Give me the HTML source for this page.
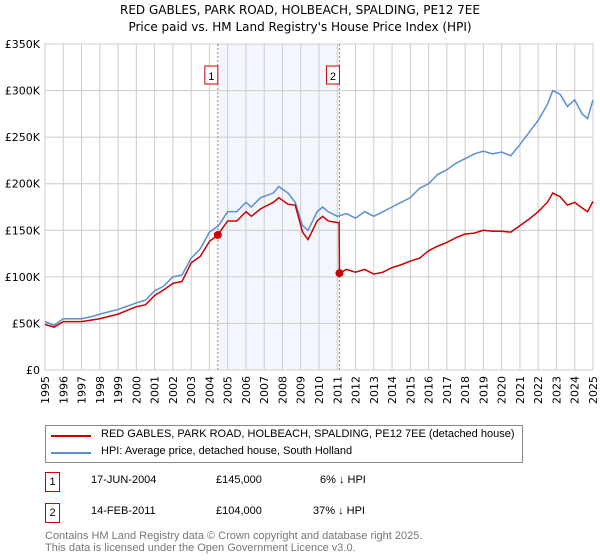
<!DOCTYPE html>
<html><head><meta charset="utf-8"><style>
body{margin:0;background:#fff;font-family:"Liberation Sans","DejaVu Sans",sans-serif;}
#wrap{position:relative;width:600px;height:560px;overflow:hidden}
.t{position:absolute;font-size:12px;color:#000;white-space:nowrap}
</style></head><body><div id="wrap">
<div class="t" style="left:0;width:600px;text-align:center;top:3px;font-size:12px;font-family:'DejaVu Sans',sans-serif">RED GABLES, PARK ROAD, HOLBEACH, SPALDING, PE12 7EE</div>
<div class="t" style="left:0;width:600px;text-align:center;top:20px;font-size:12px;font-family:'DejaVu Sans',sans-serif">Price paid vs. HM Land Registry's House Price Index (HPI)</div>
<svg id="ch" width="600" height="420" style="position:absolute;left:0;top:0"></svg>
<div style="position:absolute;left:45px;top:425px;width:476px;height:36px;border:1px solid #888">
<div style="position:absolute;left:5px;top:9px;width:40px;height:2px;background:#cc0000"></div>
<div class="t" style="left:55px;top:2px;font-size:11px">RED GABLES, PARK ROAD, HOLBEACH, SPALDING, PE12 7EE (detached house)</div>
<div style="position:absolute;left:5px;top:26px;width:40px;height:2px;background:#5b8fd4"></div>
<div class="t" style="left:55px;top:19px;font-size:11px">HPI: Average price, detached house, South Holland</div>
</div>
<div>
<div class="t" style="left:45px;top:472px;width:13px;height:18px;border:1px solid #cc0000;text-align:center;line-height:18px;font-size:11px">1</div>
<div class="t" style="left:91px;top:474px;font-size:11px">17-JUN-2004</div>
<div class="t" style="left:216px;top:474px;font-size:11px">£145,000</div>
<div class="t" style="left:320px;top:474px;font-size:11px">6% ↓ HPI</div>
</div>
<div>
<div class="t" style="left:45px;top:503px;width:13px;height:18px;border:1px solid #cc0000;text-align:center;line-height:18px;font-size:11px">2</div>
<div class="t" style="left:91px;top:505px;font-size:11px">14-FEB-2011</div>
<div class="t" style="left:216px;top:505px;font-size:11px">£104,000</div>
<div class="t" style="left:313px;top:505px;font-size:11px">37% ↓ HPI</div>
</div>
<div class="t" style="left:45px;top:530px;color:#777;font-size:11px;line-height:12px">Contains HM Land Registry data © Crown copyright and database right 2025.<br>This data is licensed under the Open Government Licence v3.0.</div>
</div>
<script>
const yTicks=[0,50000,100000,150000,200000,250000,300000,350000];
const yTickLabels=["£0","£50K","£100K","£150K","£200K","£250K","£300K","£350K"];
const xYears=[1995,1996,1997,1998,1999,2000,2001,2002,2003,2004,2005,2006,2007,2008,2009,2010,2011,2012,2013,2014,2015,2016,2017,2018,2019,2020,2021,2022,2023,2024,2025];
const hpiT=[1995,1995.5,1996,1997,1997.5,1998,1999,2000,2000.5,2001,2001.5,2002,2002.5,2003,2003.5,2004,2004.5,2005,2005.5,2006,2006.3,2006.8,2007.5,2007.8,2008.3,2008.7,2009.1,2009.4,2009.9,2010.2,2010.5,2011,2011.5,2012,2012.5,2013,2013.5,2014,2014.5,2015,2015.5,2016,2016.5,2017,2017.5,2018,2018.5,2019,2019.5,2020,2020.5,2021,2021.5,2022,2022.5,2022.8,2023.2,2023.6,2024,2024.4,2024.7,2025];
const hpiV=[52,48,55,55,57,60,65,72,75,85,90,100,102,120,130,148,155,170,170,180,175,185,190,197,190,180,155,150,170,175,170,165,168,163,170,165,170,175,180,185,195,200,210,215,222,227,232,235,232,234,230,242,255,268,285,300,296,283,290,275,270,290];
const redT=[1995,1995.5,1996,1997,1998,1999,2000,2000.5,2001,2001.5,2002,2002.5,2003,2003.5,2004,2004.46,2005,2005.5,2006,2006.3,2006.8,2007.5,2007.8,2008.3,2008.7,2009.1,2009.4,2009.9,2010.2,2010.5,2011.1,2011.12,2011.5,2012,2012.5,2013,2013.5,2014,2014.5,2015,2015.5,2016,2016.5,2017,2017.5,2018,2018.5,2019,2019.5,2020,2020.5,2021,2021.5,2022,2022.5,2022.8,2023.2,2023.6,2024,2024.4,2024.7,2025];
const redV=[49,46,52,52,55,60,68,70,80,86,93,95,115,122,138,145,160,160,170,165,173,180,185,178,177,148,140,160,165,160,158,104,108,105,108,103,105,110,113,117,120,128,133,137,142,146,147,150,149,149,148,155,162,170,180,190,186,177,180,174,170,181];
const saleT=[2004.46,2011.12];
const saleV=[145,104];
const saleLabels=["1","2"];
const NS="http://www.w3.org/2000/svg",svg=document.getElementById('ch');
const X=t=>45+(t-1995)*(593-45)/30, Y=v=>370-v*326/350000;
function el(tag,a,p){const e=document.createElementNS(NS,tag);for(const k in a)e.setAttribute(k,a[k]);(p||svg).appendChild(e);return e;}
let r=el('rect',{x:X(saleT[0]),y:44,width:X(saleT[1])-X(saleT[0]),height:326,fill:'#eef3fc',opacity:0.7});

yTicks.forEach((v,i)=>{let l=el('line',{x1:45,x2:593,y1:Y(v),y2:Y(v),stroke:'#ccc'});

let t=el('text',{x:40,y:Y(v)+4,'text-anchor':'end','font-size':11,'font-family':'DejaVu Sans,sans-serif'});t.textContent=yTickLabels[i];
});
xYears.forEach(yr=>{let l=el('line',{x1:X(yr),x2:X(yr),y1:44,y2:370,stroke:'#ccc'});

let t=el('text',{x:0,y:0,'text-anchor':'end','font-size':11,'font-family':'DejaVu Sans,sans-serif',transform:`translate(${X(yr)+4},376) rotate(-90)`});t.textContent=yr;
});
let b=el('rect',{x:45,y:44,width:548,height:326,fill:'none',stroke:'#ccc'});

saleT.forEach((t,i)=>{let l=el('line',{x1:X(t),x2:X(t),y1:44,y2:370,stroke:'#e06666','stroke-dasharray':'2,2'});

let bx=el('rect',{x:X(t)-13,y:66,width:13,height:18,fill:'#fff',stroke:'#cc0000'});

let tx=el('text',{x:X(t)-6.5,y:80,'text-anchor':'middle','font-size':11,'font-family':'Liberation Sans,sans-serif'});tx.textContent=saleLabels[i];
});
let hp=el('polyline',{points:hpiT.map((t,i)=>X(t)+','+Y(hpiV[i]*1000)).join(' '),fill:'none',stroke:'#5b8fd4','stroke-width':1.5});

let rp=el('polyline',{points:redT.map((t,i)=>X(t)+','+Y(redV[i]*1000)).join(' '),fill:'none',stroke:'#cc0000','stroke-width':1.5});

saleT.forEach((t,i)=>{let c=el('circle',{cx:X(t),cy:Y(saleV[i]*1000),r:4,fill:'#cc0000'});
});
</script></body></html>
